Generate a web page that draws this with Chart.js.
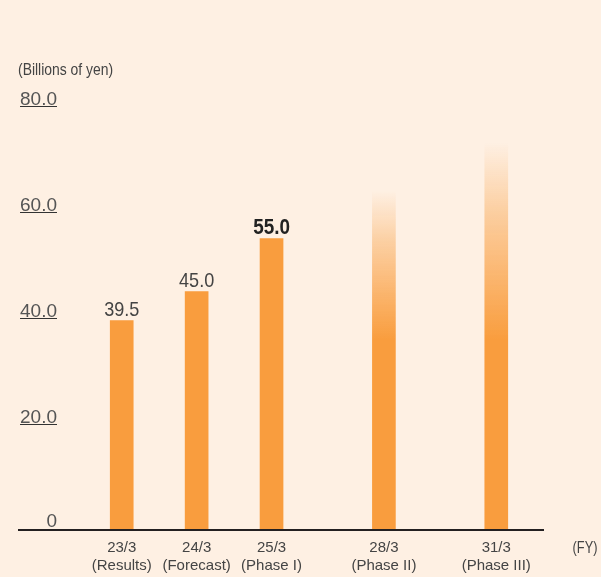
<!DOCTYPE html>
<html>
<head>
<meta charset="utf-8">
<script src="https://cdn.jsdelivr.net/npm/chart.js@4.4.1/dist/chart.umd.min.js"></script>
<style>
  html, body { margin: 0; padding: 0; background: #fef0e3; }
  #chart { display: block; }
</style>
</head>
<body>
<canvas id="chart" width="601" height="577"></canvas>
<script>
// blank entries are spacer slots that keep the wider gap before the mid-term targets
const fiscalYears = ["23/3", "", "24/3", "", "25/3", "", "", "28/3", "", "", "31/3"];
const phaseNotes = ["(Results)", "", "(Forecast)", "", "(Phase I)", "", "", "(Phase II)", "", "", "(Phase III)"];
const sales = [39.5, null, 45.0, null, 55.0, null, null, 64, null, null, 73];
const isTarget = [false, false, false, false, false, false, false, true, false, false, true];
const highlightIndex = 4;
const yTicks = [0, 20, 40, 60, 80];
const yTickLabels = ["0", "20.0", "40.0", "60.0", "80.0"];

const FONT = "'Liberation Sans', Arial, sans-serif";
const ORANGE = "rgb(249, 157, 62)";
const TEXT = "#444";

// condensed-looking text: draw taller font squeezed horizontally
function squeezed(ctx, text, x, y, sx) {
  ctx.save();
  ctx.translate(x, y);
  ctx.scale(sx, 1);
  ctx.fillText(text, 0, 0);
  ctx.restore();
}

const extras = {
  id: "extras",
  afterDraw(chart) {
    const { ctx, scales } = chart;
    const y = scales.y;
    ctx.save();

    // unit title
    ctx.fillStyle = TEXT;
    ctx.font = "16px " + FONT;
    ctx.textAlign = "left";
    ctx.textBaseline = "top";
    squeezed(ctx, "(Billions of yen)", 18, 63, 0.87);

    // y tick labels with underlines
    ctx.font = "19px " + FONT;
    ctx.textAlign = "right";
    ctx.textBaseline = "alphabetic";
    yTicks.forEach((v, i) => {
      const p = y.getPixelForValue(v);
      const label = yTickLabels[i];
      ctx.fillStyle = "#555";
      ctx.fillText(label, 57, v === 0 ? p - 3 : p - 1);
      if (v !== 0) {
        const w = ctx.measureText(label).width;
        ctx.fillStyle = "#333";
        ctx.fillRect(57 - w, p, w, 1);
      }
    });

    // baseline
    const base = y.getPixelForValue(0);
    ctx.fillStyle = "#231f20";
    ctx.fillRect(18, base - 1, 526, 2);

    // (FY)
    ctx.fillStyle = TEXT;
    ctx.font = "16px " + FONT;
    ctx.textAlign = "center";
    ctx.textBaseline = "middle";
    squeezed(ctx, "(FY)", 585, 549, 0.8);

    // value labels on actual / forecast bars
    const meta = chart.getDatasetMeta(0);
    ctx.textBaseline = "alphabetic";
    sales.forEach((v, i) => {
      if (v === null || isTarget[i]) return;
      const bar = meta.data[i];
      if (i === highlightIndex) {
        ctx.font = "bold 22px " + FONT;
        ctx.fillStyle = "#222";
        squeezed(ctx, v.toFixed(1), bar.x, bar.y - 5, 0.86);
      } else {
        ctx.font = "21px " + FONT;
        ctx.fillStyle = TEXT;
        squeezed(ctx, v.toFixed(1), bar.x, bar.y - 5, 0.86);
      }
    });

    ctx.restore();
  },
};

new Chart(document.getElementById("chart"), {
  type: "bar",
  data: {
    labels: fiscalYears.map((fy, i) => (fy ? [fy, phaseNotes[i]] : "")),
    datasets: [
      {
        data: sales,
        barThickness: 23,
        backgroundColor: (c) => {
          const i = c.dataIndex;
          if (!isTarget[i]) return ORANGE;
          const chart = c.chart;
          if (!chart.chartArea) return ORANGE;
          const y = chart.scales.y;
          const top = y.getPixelForValue(sales[i]);
          const solid = y.getPixelForValue(36);
          const g = chart.ctx.createLinearGradient(0, top, 0, solid);
          g.addColorStop(0, "rgba(249, 157, 62, 0)");
          g.addColorStop(0.35, "rgba(249, 157, 62, 0.4)");
          g.addColorStop(1, "rgba(249, 157, 62, 1)");
          return g;
        },
      },
    ],
  },
  options: {
    responsive: false,
    animation: false,
    devicePixelRatio: 1,
    layout: {
      padding: { left: 103, right: 86, top: 106, bottom: 0 },
    },
    scales: {
      x: {
        grid: { display: false, drawTicks: false },
        border: { display: false },
        ticks: {
          color: TEXT,
          font: { family: FONT, size: 15, lineHeight: 1.25 },
          padding: 8,
          maxRotation: 0,
          autoSkip: false,
        },
        afterFit(scale) {
          scale.height = 47;
          scale.paddingLeft = 0;
          scale.paddingRight = 0;
        },
      },
      y: {
        display: false,
        min: 0,
        max: 80,
      },
    },
    plugins: {
      legend: { display: false },
      tooltip: { enabled: false },
    },
  },
  plugins: [extras],
});
</script>
</body>
</html>
